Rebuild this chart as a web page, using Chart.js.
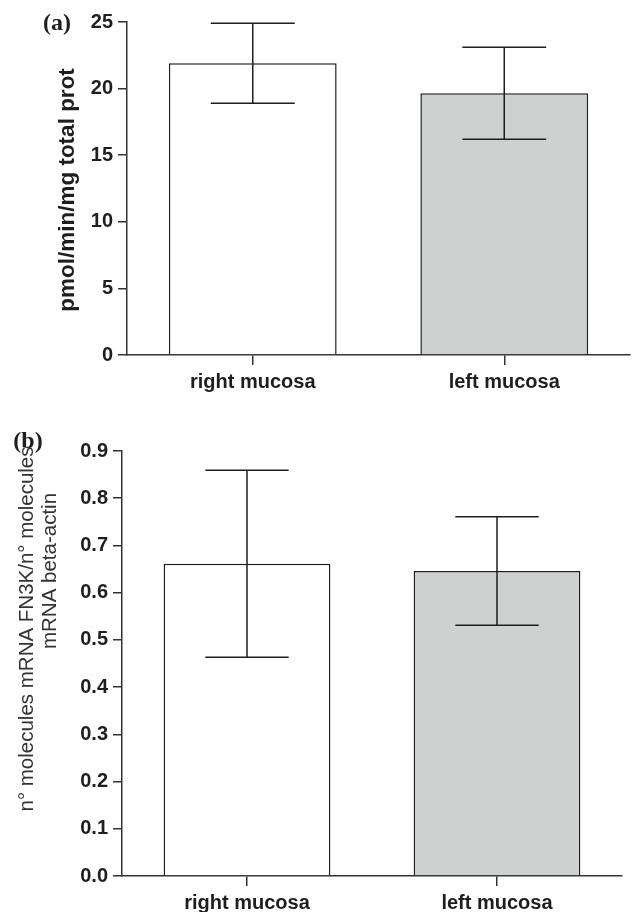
<!DOCTYPE html>
<html>
<head>
<meta charset="utf-8">
<script src="https://cdn.jsdelivr.net/npm/chart.js@4.4.0/dist/chart.umd.min.js"></script>
<style>
  html, body { margin: 0; padding: 0; background: #fff; }
  #wrapA { position: absolute; left: 0; top: 0; width: 632px; height: 395px; }
  #wrapB { position: absolute; left: 0; top: 395px; width: 632px; height: 517px; }
</style>
</head>
<body>
<div id="wrapA"><canvas id="chartA" width="632" height="395"></canvas></div>
<div id="wrapB"><canvas id="chartB" width="632" height="517"></canvas></div>
<script>
// data
const categories = ["right mucosa", "left mucosa"];
const activityMeans = [21.9, 19.65];
const activityErrors = [3.0, 3.45];
const activityTicks = [0, 5, 10, 15, 20, 25];
const mrnaMeans = [0.661, 0.646];
const mrnaErrors = [0.198, 0.115];
const mrnaTicks = [0, 0.1, 0.2, 0.3, 0.4, 0.5, 0.6, 0.7, 0.8, 0.9];
const barColors = ["#ffffff", "#cfd1d0"];

const SANS = "'Liberation Sans', Arial, Helvetica, sans-serif";
const SERIF = "'Liberation Serif', 'Times New Roman', serif";
const INK = "#1e1e1e";
const AXIS = "#333";

// whiskers drawn from the bar elements and the y scale
const errorBars = {
  id: "errorBars",
  afterDatasetsDraw(chart, args, opts) {
    const { ctx } = chart;
    const meta = chart.getDatasetMeta(0);
    const y = chart.scales.y;
    ctx.save();
    ctx.strokeStyle = opts.color;
    ctx.lineWidth = opts.width;
    meta.data.forEach((bar, i) => {
      const m = chart.data.datasets[0].data[i];
      const e = opts.errors[i];
      const top = y.getPixelForValue(m + e);
      const bot = y.getPixelForValue(m - e);
      const half = bar.width / 4;
      ctx.beginPath();
      ctx.moveTo(bar.x, top);
      ctx.lineTo(bar.x, bot);
      ctx.moveTo(bar.x - half, top);
      ctx.lineTo(bar.x + half, top);
      ctx.moveTo(bar.x - half, bot);
      ctx.lineTo(bar.x + half, bot);
      ctx.stroke();
    });
    ctx.restore();
  },
};

// axis titles and panel letters
const sideText = {
  id: "sideText",
  afterDraw(chart, args, opts) {
    const { ctx } = chart;
    opts.items.forEach((t) => {
      ctx.save();
      ctx.translate(t.x, t.y);
      ctx.rotate(t.rotate || 0);
      ctx.font = t.font;
      ctx.fillStyle = t.color || INK;
      ctx.textAlign = "center";
      ctx.textBaseline = "middle";
      ctx.fillText(t.text, 0, 0);
      ctx.restore();
    });
  },
};

function makeChart(id, cfg) {
  return new Chart(document.getElementById(id), {
    type: "bar",
    data: {
      labels: categories,
      datasets: [
        {
          data: cfg.means,
          backgroundColor: barColors,
          borderColor: INK,
          borderWidth: 1.5,
          categoryPercentage: 1,
          barPercentage: 0.667,
        },
      ],
    },
    options: {
      responsive: false,
      animation: false,
      layout: { padding: cfg.padding },
      plugins: {
        legend: { display: false },
        tooltip: { enabled: false },
        errorBars: { errors: cfg.errors, color: INK, width: 1.5 },
        sideText: { items: cfg.texts },
      },
      scales: {
        x: {
          afterFit: (s) => { s.height = cfg.xHeight; },
          grid: { offset: false, drawOnChartArea: false, tickLength: 10, color: AXIS, lineWidth: 1.5 },
          border: { display: true, color: AXIS, width: 1.5 },
          ticks: { color: INK, padding: 5, font: { family: SANS, size: 20, weight: "bold" } },
        },
        y: {
          min: 0,
          max: cfg.ticks[cfg.ticks.length - 1],
          afterFit: (s) => { s.width = cfg.yWidth; },
          afterBuildTicks: (s) => { s.ticks = cfg.ticks.map((v) => ({ value: v })); },
          grid: { drawOnChartArea: false, tickLength: 9, color: AXIS, lineWidth: 1.5 },
          border: { display: true, color: AXIS, width: 1.5 },
          ticks: {
            color: INK,
            padding: 5,
            font: { family: SANS, size: 20, weight: "bold" },
            callback: cfg.format,
          },
        },
      },
    },
    plugins: [errorBars, sideText],
  });
}

makeChart("chartA", {
  means: activityMeans,
  errors: activityErrors,
  ticks: activityTicks,
  format: (v) => String(v),
  padding: { top: 22, right: 2, left: 0, bottom: 0 },
  xHeight: 40,
  yWidth: 127,
  texts: [
    { text: "(a)", x: 57, y: 24, font: "bold 24px " + SERIF },
    { text: "pmol/min/mg total prot", x: 68, y: 190, rotate: -Math.PI / 2, font: "bold 22.5px " + SANS },
  ],
});

makeChart("chartB", {
  means: mrnaMeans,
  errors: mrnaErrors,
  ticks: mrnaTicks,
  format: (v) => Number(v).toFixed(1),
  padding: { top: 56, right: 10, left: 0, bottom: 0 },
  xHeight: 36,
  yWidth: 122,
  texts: [
    { text: "(b)", x: 28, y: 47, font: "bold 24px " + SERIF },
    { text: "n\u00b0 molecules mRNA FN3K/n\u00b0 molecules", x: 27, y: 234, rotate: -Math.PI / 2, font: "20.5px " + SANS, color: "#333" },
    { text: "mRNA beta-actin", x: 50, y: 176, rotate: -Math.PI / 2, font: "20.5px " + SANS, color: "#333" },
  ],
});
</script>
</body>
</html>
